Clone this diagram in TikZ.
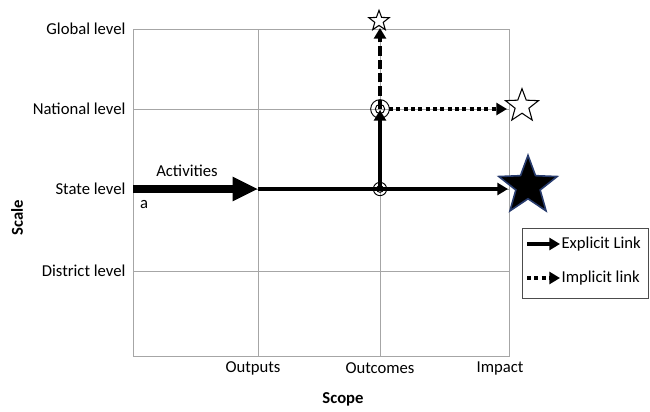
\documentclass[tikz,border=0pt]{standalone}
\usepackage{fontspec}
\setmainfont{Carlito}
\usetikzlibrary{arrows.meta,shapes.geometric}
\begin{document}
\begin{tikzpicture}[x=0.75pt,y=-0.75pt,
  gridline/.style={draw=black!35, line width=0.6pt},
  lbl/.style={font=\fontsize{12.5}{14}\selectfont, inner sep=1pt},
  axis/.style={font=\fontsize{12.5}{14}\selectfont\bfseries, inner sep=1pt},
  explicit/.style={line width=2.8pt, -{Triangle[length=8pt,width=9pt]}},
  implicit/.style={line width=2.8pt, dash pattern=on 3pt off 2.5pt, -{Triangle[length=8pt,width=9pt]}},
  dashlink/.style={line width=3pt, dash pattern=on 7pt off 3pt, -{Triangle[length=8pt,width=9pt]}},
  ring/.style={circle, draw, line width=0.7pt, inner sep=0pt, minimum size=#1},
  starshape/.style={star, star points=5, star point ratio=2.4, draw, line width=0.8pt, inner sep=0pt, minimum size=#1},
]
\useasboundingbox (0,0) rectangle (650,411);
% grid
\draw[gridline] (133,29) rectangle (509,356);
\draw[gridline] (258,29) -- (258,356);
\draw[gridline] (380,29) -- (380,356);
\draw[gridline] (133,109) -- (509,109);
\draw[gridline] (133,189) -- (509,189);
\draw[gridline] (133,271) -- (509,271);
% labels
\node[lbl, anchor=east] (gl) at (127,29) {Global level};
\node[lbl, anchor=east] (nl) at (127,109) {National level};
\node[lbl, anchor=east] (sl) at (127,189) {State level};
\node[lbl, anchor=east] (dl) at (127,271) {District level};
\node[lbl] (op) at (253,368) {Outputs};
\node[lbl] (oc) at (380,368) {Outcomes};
\node[lbl] (im) at (500,368) {Impact};
\node[axis] (scope) at (343,399) {Scope};
\node[axis, rotate=90] (scale) at (17,218) {Scale};
\node[lbl] (act) at (187,171) {Activities};
\node[lbl] (a) at (144,205) {a};
% coordinates
\coordinate (s0) at (133,189);
\coordinate (s1) at (258,189);
\coordinate (s3) at (508,189);
\coordinate (n3) at (507,109);
\coordinate (g2) at (380,28);
\coordinate (oc1) at (380,189);
\coordinate (oc2) at (380,109);
% stars
\node[starshape=16pt, fill=white] (st1) at (379,21) {};
\node[starshape=26pt, fill=white] (st2) at (522,106) {};
\node[starshape=46pt, fill=black, draw={rgb,255:red,40;green,60;blue,110}, line width=1.2pt] (st3) at (528,186) {};
% arrows
\draw[line width=6pt, -{Triangle[length=19pt,width=17pt]}] (s0) -- (s1);
\draw[explicit] (s1) -- (s3);
\draw[explicit] (oc1) -- (380,110);
\draw[implicit] (oc2) ++(9,0) -- (n3);
\draw[dashlink] (oc2) -- (g2);
% rings on top
\node[ring=10pt] (r1) at (oc1) {};
\node[ring=5pt] at (oc1) {};
\node[ring=14pt] (r2) at (oc2) {};
\node[ring=7pt] at (oc2) {};
% legend
\node[draw=black!70, line width=0.6pt, minimum width=94.5pt, minimum height=52.5pt, anchor=north west, inner sep=0pt] (leg) at (522,228) {};
\coordinate (l1a) at (527,244);
\coordinate (l1b) at (560,244);
\coordinate (l2a) at (527,278);
\coordinate (l2b) at (560,278);
\draw[line width=2.6pt, -{Triangle[length=8pt,width=9pt]}] (l1a) -- (l1b);
\draw[line width=2.6pt, dash pattern=on 3pt off 2.5pt, -{Triangle[length=8pt,width=9pt]}] (l2a) -- (l2b);
\node[lbl, anchor=west] (t1) at (l1b) {Explicit Link};
\node[lbl, anchor=west] (t2) at (l2b) {Implicit link};
\end{tikzpicture}
\end{document}
